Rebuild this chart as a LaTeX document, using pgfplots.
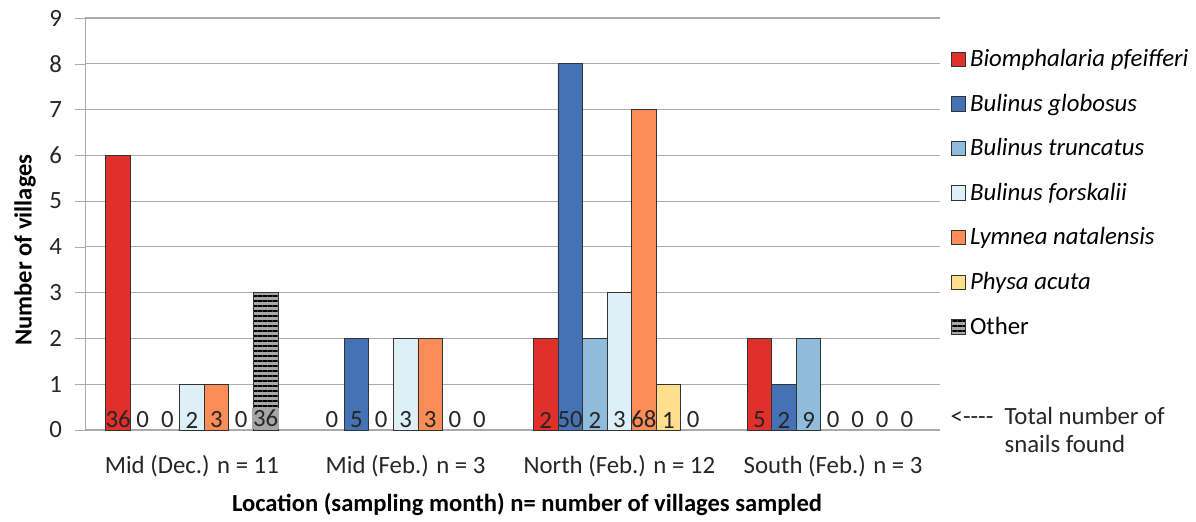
\documentclass[border=0pt]{standalone}
\usepackage{fontspec}
\setmainfont{Carlito}
\usepackage{pgfplots}
\usepackage{pgfplotstable}
\pgfplotsset{compat=1.18}
\usetikzlibrary{patterns.meta}

\definecolor{cRed}{HTML}{E1302A}
\definecolor{cBlue}{HTML}{4472B4}
\definecolor{cMid}{HTML}{90BCDB}
\definecolor{cPale}{HTML}{DEF0F7}
\definecolor{cOrange}{HTML}{FC8D59}
\definecolor{cYellow}{HTML}{FEDF8E}
\definecolor{cOther}{HTML}{A6A6A6}
\definecolor{cGrid}{HTML}{ABABAB}
\definecolor{cText}{HTML}{262626}

% number of villages with each species
\pgfplotstableread{
x bp bg bt bf ln pa ot z
0 6 0 0 1 1 0 3 0
1 0 2 0 2 2 0 0 0
2 2 8 2 3 7 1 0 0
3 2 1 2 0 0 0 0 0
}\villages

% total number of snails found
\pgfplotstableread{
x bp bg bt bf ln pa ot z
0 36 0 0 2 3 0 36 0
1 0 5 0 3 3 0 0 0
2 2 50 2 3 68 1 0 0
3 5 2 9 0 0 0 0 0
}\snails

\newcommand{\fs}{\fontsize{12.4}{14}\selectfont}
\newcommand{\fl}{\fontsize{12.3}{14}\selectfont}

\begin{document}
\begin{tikzpicture}
\useasboundingbox (-42.5pt,-45.5pt) rectangle (555.5pt,215pt);
\begin{axis}[
  scale only axis,
  width=427.5pt, height=206pt,
  clip=false,
  ybar, bar width=0.115,
  xmin=-0.5, xmax=3.5,
  ymin=0, ymax=9,
  ytick={0,...,9},
  xtick={0,1,2,3},
  xticklabels={Mid (Dec.) n = 11, Mid (Feb.) n = 3, North (Feb.) n = 12, South (Feb.) n = 3},
  axis lines=left,
  axis line style={cGrid, -},
  ymajorgrids,
  grid style={cGrid, line width=0.6pt},
  xtick style={draw=none},
  ytick style={cGrid},
  tick align=outside,
  major tick length=5pt,
  /pgf/number format/assume math mode=true,
  ticklabel style={font=\fs, text=cText},
  yticklabel style={xshift=-3pt},
  xticklabel style={yshift=-4pt},
  xlabel={\textbf{Location (sampling month) n= number of villages sampled}},
  ylabel={\textbf{Number of villages}},
  every axis x label/.style={at={(axis description cs:0.517,-0.137)}, anchor=north,
    font=\fl, text=black},
  every axis y label/.style={at={(axis description cs:-0.07,0.437)}, rotate=90,
    anchor=center, font=\fl, text=black},
  legend style={at={(axis description cs:1.012,0.935)}, anchor=north west,
    draw=none, fill=none, font=\fs\itshape, row sep=8.2pt, cells={anchor=west},
    inner sep=0pt},
  legend cell align=left,
  legend image code/.code={\draw[#1, line width=0.5pt] (0pt,-3.6pt) rectangle (7.2pt,3.6pt);},
  nodes near coords style={font=\fs, text=cText},
  bars/.style={draw=black!80, y filter/.expression={y==0 ? nan : y}, unbounded coords=discard},
  lbl/.style={draw=none, fill=none, forget plot, nodes near coords,
    point meta=explicit symbolic,
    every node near coord/.append style={anchor=south, inner sep=0.8pt}},
]
\addplot[bars, fill=cRed, bar shift=-0.345] table[x=x, y=bp] {\villages};
\addplot[bars, fill=cBlue, bar shift=-0.23] table[x=x, y=bg] {\villages};
\addplot[bars, fill=cMid, bar shift=-0.115] table[x=x, y=bt] {\villages};
\addplot[bars, fill=cPale, bar shift=0] table[x=x, y=bf] {\villages};
\addplot[bars, fill=cOrange, bar shift=0.115] table[x=x, y=ln] {\villages};
\addplot[bars, fill=cYellow, bar shift=0.23] table[x=x, y=pa] {\villages};
\addplot[bars, fill=cOther, bar shift=0.345,
  postaction={pattern={Lines[angle=0, distance=2.5pt, line width=1pt]}, pattern color=black}]
  table[x=x, y=ot] {\villages};
\legend{Biomphalaria pfeifferi, Bulinus globosus, Bulinus truncatus, Bulinus forskalii,
  Lymnea natalensis, Physa acuta, \upshape Other}

% snail totals written at the foot of each bar
\addplot[lbl, bar shift=-0.345] table[x=x, y=z, meta=bp] {\snails};
\addplot[lbl, bar shift=-0.23] table[x=x, y=z, meta=bg] {\snails};
\addplot[lbl, bar shift=-0.115] table[x=x, y=z, meta=bt] {\snails};
\addplot[lbl, bar shift=0] table[x=x, y=z, meta=bf] {\snails};
\addplot[lbl, bar shift=0.115] table[x=x, y=z, meta=ln] {\snails};
\addplot[lbl, bar shift=0.23] table[x=x, y=z, meta=pa] {\snails};
\addplot[lbl, bar shift=0.345, restrict x to domain=0.5:4] table[x=x, y=z, meta=ot] {\snails};
\addplot[lbl, bar shift=0.345, restrict x to domain=-1:0.5,
  every node near coord/.append style={fill=cOther, inner xsep=0.3pt, inner ysep=1pt,
    yshift=0.3pt}]
  table[x=x, y=z, meta=ot] {\snails};

\node[anchor=base west, font=\fs, text=cText, inner sep=0pt, align=left]
  at (axis description cs:1.012,0.013)
  {<-{}-{}-{}-\ \ \begin{tabular}[t]{@{}l@{}}Total number of\\snails found\end{tabular}};
\end{axis}
\end{tikzpicture}
\end{document}
